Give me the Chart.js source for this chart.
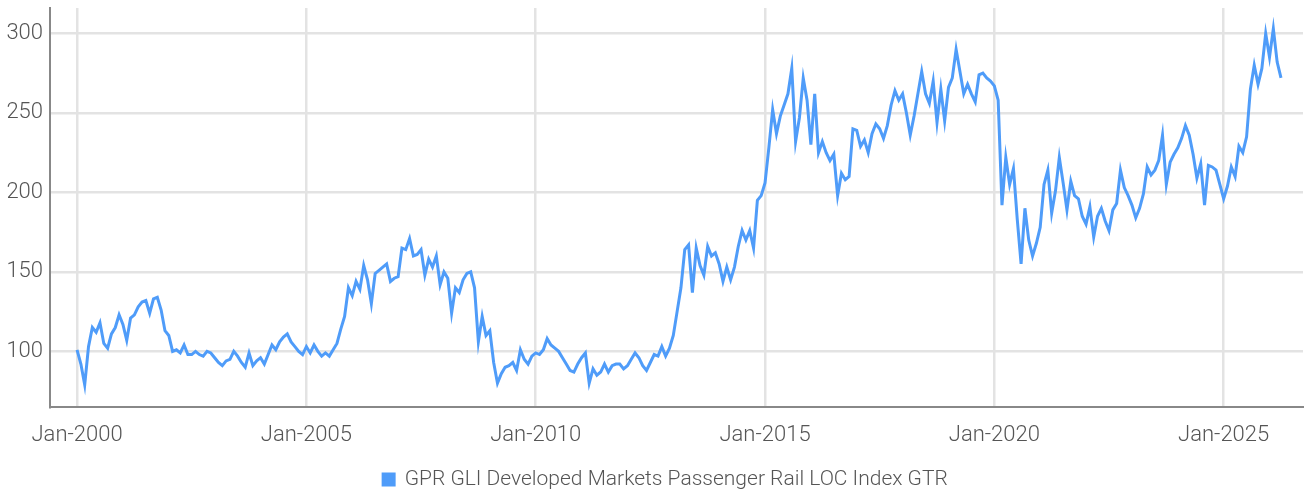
<!DOCTYPE html>
<html><head><meta charset="utf-8">
<script src="https://cdn.jsdelivr.net/npm/chart.js@4.4.1/dist/chart.umd.min.js"></script>
<style>html,body{margin:0;padding:0;background:#fff;overflow:hidden}#wrap{width:1304px;height:493px}</style>
</head><body><div id="wrap"><canvas id="c" width="1304" height="493"></canvas></div>
<script>
const seriesName = 'GPR GLI Developed Markets Passenger Rail LOC Index GTR';
const firstYear = 2000; // first monthly value is Jan-2000
const xTickYears = [2000, 2005, 2010, 2015, 2020, 2025];
const yTicks = [100, 150, 200, 250, 300];

const v2000_2004 = [
  101, 92, 79, 103, 115, 112, 118, 105, 102, 111, 115, 123,
  117, 107, 121, 123, 128, 131, 132, 124, 133, 134, 126, 113,
  110, 100, 101, 99, 104, 98, 98, 100, 98, 97, 100, 99,
  96, 93, 91, 94, 95, 100, 97, 93, 90, 99, 91, 94,
  96, 92, 98, 104, 101, 106, 109, 111, 106, 103, 100, 98
];
const v2005_2009 = [
  103, 99, 104, 100, 97, 99, 97, 101, 105, 114, 122, 140,
  135, 144, 139, 154, 145, 130, 149, 151, 153, 155, 144, 146,
  147, 165, 164, 171, 160, 161, 164, 148, 158, 153, 160, 142,
  150, 146, 124, 140, 137, 145, 149, 150, 140, 106, 122, 110,
  113, 93, 80, 86, 90, 91, 93, 88, 101, 95, 92, 97
];
const v2010_2014 = [
  99, 98, 101, 108, 104, 102, 100, 96, 92, 88, 87, 92,
  96, 99, 80, 89, 85, 87, 92, 87, 91, 92, 92, 89,
  91, 95, 99, 96, 91, 88, 93, 98, 97, 103, 97, 102,
  110, 125, 140, 164, 167, 137, 165, 154, 148, 166, 160, 162,
  155, 144, 153, 145, 153, 166, 176, 170, 176, 165, 195, 198
];
const v2015_2019 = [
  206, 228, 252, 237, 248, 255, 262, 278, 232, 247, 272, 258,
  230, 262, 225, 232, 225, 220, 224, 198, 212, 208, 210, 240,
  239, 229, 233, 225, 237, 243, 240, 234, 242, 255, 264, 258,
  262, 250, 236, 248, 262, 276, 262, 256, 270, 244, 265, 245,
  266, 272, 290, 276, 262, 268, 262, 257, 274, 275, 272, 270
];
const v2020_2026 = [
  267, 258, 192, 222, 205, 215, 183, 155, 190, 170, 160, 168,
  178, 205, 214, 187, 201, 222, 206, 189, 207, 198, 196, 185,
  180, 191, 172, 185, 190, 182, 176, 189, 193, 214, 203, 198,
  192, 184, 190, 199, 216, 211, 214, 220, 236, 205, 219, 224,
  228, 234, 242, 236, 224, 209, 218, 192, 217, 216, 214, 205,
  196, 204, 216, 210, 229, 225, 235, 265, 280, 268, 278, 300,
  285, 303, 282, 272
];

const values = [].concat(v2000_2004, v2005_2009, v2010_2014, v2015_2019, v2020_2026);
const points = values.map((v, i) => ({ x: firstYear + i / 12, y: v }));

const FONT = "Roboto, 'Liberation Sans', sans-serif";
const TXT = '#555';

// nudges the centred legend slightly right, as in the reference
const legendShift = {
  id: 'legendShift',
  beforeDraw(chart) {
    const lg = chart.legend;
    if (lg && !lg._shifted) { lg.left += 14; lg.right += 14; lg._shifted = true; }
  }
};

new Chart(document.getElementById('c'), {
  type: 'line',
  data: { datasets: [{
    label: seriesName,
    data: points,
    borderColor: '#4f9cf9',
    backgroundColor: '#4f9cf9',
    borderWidth: 3,
    pointRadius: 0,
    tension: 0,
    fill: false
  }]},
  plugins: [legendShift],
  options: {
    responsive: false,
    animation: false,
    devicePixelRatio: 1,
    layout: { padding: { top: 8, right: 1, left: 0, bottom: -7 } },
    plugins: {
      tooltip: { enabled: false },
      legend: {
        position: 'bottom',
        labels: { color: TXT, font: { family: FONT, size: 21, weight: 300 }, boxWidth: 11, boxHeight: 11, padding: 2 }
      }
    },
    scales: {
      x: {
        type: 'linear',
        min: 1999.41,
        max: 2026.73,
        afterBuildTicks: s => { s.ticks = xTickYears.map(v => ({ value: v })); },
        afterFit: s => { s.height = 60; s.paddingLeft = 0; s.paddingRight = 0; },
        ticks: { color: TXT, font: { family: FONT, size: 22, weight: 300 }, padding: 15, maxRotation: 0,
          callback: v => 'Jan-' + v },
        grid: { color: '#e3e3e3', lineWidth: 2.5, drawTicks: false },
        border: { color: '#888', width: 2 }
      },
      y: {
        min: 65,
        max: 316,
        afterBuildTicks: s => { s.ticks = yTicks.map(v => ({ value: v })); },
        afterFit: s => { s.width = 50; s.paddingTop = 0; s.paddingBottom = 0; },
        ticks: { color: TXT, font: { family: FONT, size: 22, weight: 300 }, padding: 7 },
        grid: { color: '#e3e3e3', lineWidth: 2.5, drawTicks: false },
        border: { color: '#888', width: 2 }
      }
    }
  }
});
</script></body></html>
